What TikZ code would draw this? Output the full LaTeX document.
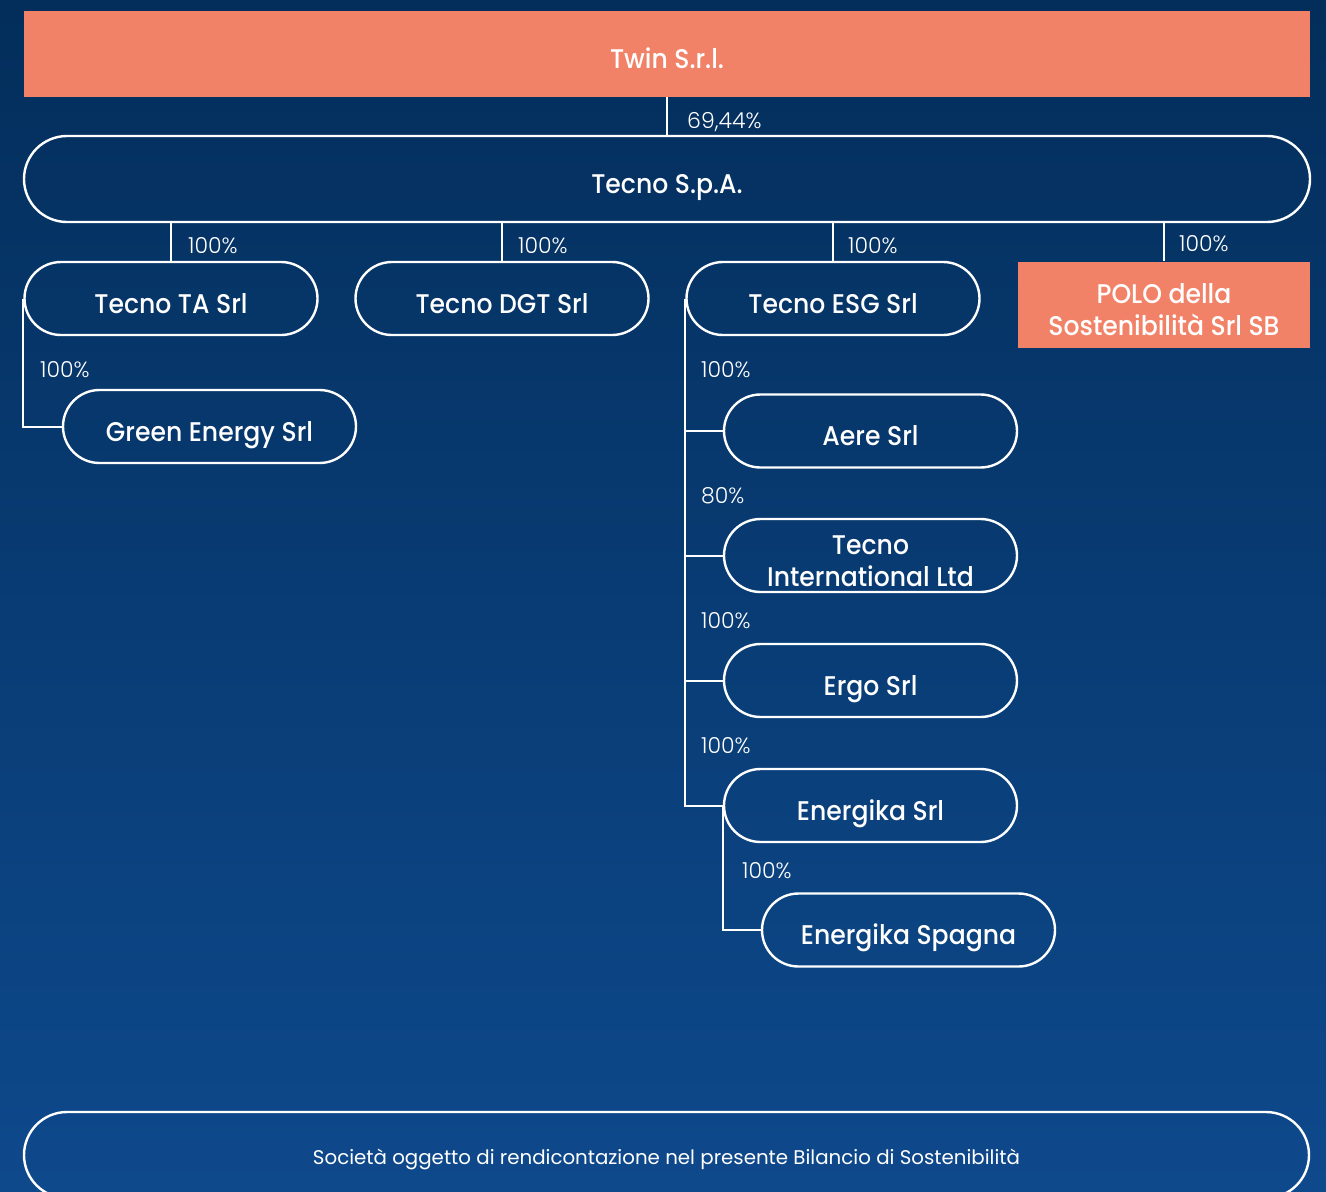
\documentclass[tikz,border=0pt]{standalone}
\usepackage{fontspec}
\setmainfont{Poppins}
\newfontfamily\nodefont{Poppins}[UprightFont=* Medium, FakeStretch=0.93]
\newfontfamily\lightfont{Poppins}[UprightFont=* Light]
\usetikzlibrary{shapes.misc}
\definecolor{salmon}{RGB}{242,130,103}
\definecolor{navytop}{RGB}{3,46,91}
\definecolor{navybot}{RGB}{14,73,140}
\tikzset{
  pill/.style={rounded rectangle, draw=white, line width=2.4pt, text=white,
    font=\nodefont\fontsize{27}{32}\selectfont, align=center, inner sep=0pt,
    minimum width=293pt, minimum height=73pt, text height=29pt, text depth=0pt},
  twoline/.style={text height=61pt, text depth=0pt},
  orangebox/.style={rectangle, fill=salmon, text=white, inner sep=0pt,
    font=\nodefont\fontsize{27}{32}\selectfont, align=center, text height=29pt, text depth=0pt},
  conn/.style={draw=white, line width=2pt},
  pct/.style={text=white, anchor=base west, inner sep=0pt, font=\lightfont\fontsize{22}{24}\selectfont}
}
\begin{document}
\begin{tikzpicture}[x=1pt,y=-1pt]
\useasboundingbox (0,0) rectangle (1326,1192);
\clip (0,0) rectangle (1326,1192);
\shade[top color=navytop, bottom color=navybot] (0,0) rectangle (1326,1192);

\node[orangebox, minimum width=1286pt, minimum height=86pt] (twin) at (667,54) {Twin S.r.l.};
\node[pill, minimum width=1286pt, minimum height=86pt] (spa) at (667,179) {Tecno S.p.A.};

\node[pill] (ta) at (171,298.5) {Tecno TA Srl};
\node[pill] (dgt) at (502,298.5) {Tecno DGT Srl};
\node[pill] (esg) at (833,298.5) {Tecno ESG Srl};
\node[orangebox, twoline, minimum width=292pt, minimum height=86pt] (polo) at (1164,304.5) {POLO della\\Sostenibilità Srl SB};

\node[pill] (green) at (209.5,426.5) {Green Energy Srl};
\node[pill] (aere) at (870.5,431) {Aere Srl};
\node[pill, twoline] (intl) at (870.5,555.5) {Tecno\\International Ltd};
\node[pill] (ergo) at (870.5,680.5) {Ergo Srl};
\node[pill] (energika) at (870.5,805.5) {Energika Srl};
\node[pill] (spagna) at (908.5,930) {Energika Spagna};

\node[pill, minimum width=1285pt, minimum height=86pt, text height=18pt, text depth=0pt, font=\fontsize{19.8}{23}\selectfont] (note) at (666.5,1155) {Società oggetto di rendicontazione nel presente Bilancio di Sostenibilità};

% connectors
\draw[conn] (twin.south) -- (spa.north);
\draw[conn] (spa.south -| ta.north) -- (ta.north);
\draw[conn] (spa.south -| dgt.north) -- (dgt.north);
\draw[conn] (spa.south -| esg.north) -- (esg.north);
\draw[conn] (spa.south -| polo.north) -- (polo.north);
\draw[conn] (ta.west) |- (green.west);
\draw[conn] (esg.west) |- (aere.west);
\draw[conn] (esg.west) |- (intl.west);
\draw[conn] (esg.west) |- (ergo.west);
\draw[conn] (esg.west) |- (energika.west);
\draw[conn] (energika.west) |- (spagna.west);

% labels
\node[pct] (l0) at (687,128) {69,44\%};
\node[pct] (l1) at (188,253.5) {100\%};
\node[pct] (l2) at (518,253.5) {100\%};
\node[pct] (l3) at (848,253.5) {100\%};
\node[pct] (l4) at (1179,251.5) {100\%};
\node[pct] (l5) at (40,377.5) {100\%};
\node[pct] (l6) at (701,377.5) {100\%};
\node[pct] (l7) at (701,503.5) {80\%};
\node[pct] (l8) at (701,628.5) {100\%};
\node[pct] (l9) at (701,753.5) {100\%};
\node[pct] (l10) at (742,878.5) {100\%};
\end{tikzpicture}
\end{document}
